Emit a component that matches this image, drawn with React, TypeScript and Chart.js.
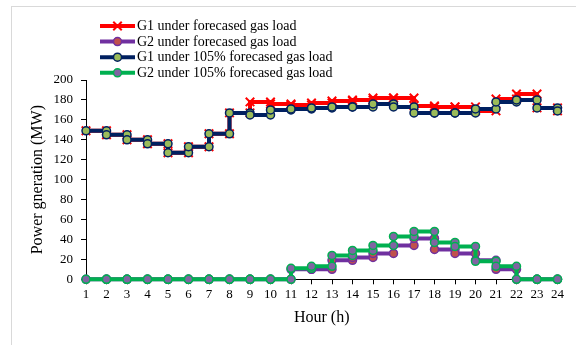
import React, { useEffect, useRef } from 'react';
import { Chart, registerables } from 'chart.js';

Chart.register(...registerables);

const hours = [1, 2, 3, 4, 5, 6, 7, 8, 9, 10, 11, 12, 13, 14, 15, 16, 17, 18, 19, 20, 21, 22, 23, 24];

const seriesNames = [
  'G1 under forecased gas load',
  'G2 under forecased gas load',
  'G1 under 105% forecased gas load',
  'G2 under 105% forecased gas load',
];

const g1Forecast = [149, 145, 140, 136, 127, 133, 146, 167, 178, 176, 175, 177, 179, 180, 182, 182, 174, 173, 173, 169, 181, 186, 172, 169];
const g2Forecast = [0, 0, 0, 0, 0, 0, 0, 0, 0, 0, 10, 10, 19, 22, 26, 34, 41, 30, 26, 19, 10, 0, 0, 0];
const g1Plus5 = [149, 145, 140, 136, 127, 133, 146, 167, 165, 170, 171, 172, 173, 173, 176, 173, 167, 167, 167, 171, 178, 180, 172, 169];
const g2Plus5 = [0, 0, 0, 0, 0, 0, 0, 0, 0, 0, 11, 13, 24, 29, 34, 43, 48, 37, 33, 18, 13, 0, 0, 0];

const yTitle = 'Power gneration (MW)';
const xTitle = 'Hour (h)';

const FONT = '"Liberation Serif", "Times New Roman", serif';

function stepPoints(values: number[]) {
  const pts: { x: number; y: number }[] = [];
  values.forEach((v, i) => {
    if (i > 0) pts.push({ x: hours[i], y: values[i - 1] });
    pts.push({ x: hours[i], y: v });
  });
  return pts;
}

function drawMarker(ctx: CanvasRenderingContext2D, ds: any, x: number, y: number) {
  if (ds.pointStyle === 'crossRot') {
    const r = ds.pointRadius * Math.SQRT1_2;
    ctx.strokeStyle = ds.pointBorderColor;
    ctx.lineWidth = ds.pointBorderWidth;
    ctx.beginPath();
    ctx.moveTo(x - r, y - r);
    ctx.lineTo(x + r, y + r);
    ctx.moveTo(x - r, y + r);
    ctx.lineTo(x + r, y - r);
    ctx.stroke();
  } else {
    ctx.beginPath();
    ctx.arc(x, y, ds.pointRadius, 0, Math.PI * 2);
    ctx.fillStyle = ds.pointBackgroundColor;
    ctx.fill();
    ctx.strokeStyle = ds.pointBorderColor;
    ctx.lineWidth = ds.pointBorderWidth;
    ctx.stroke();
  }
}

const legendPlugin = {
  id: 'stepLegend',
  afterDraw(chart: any) {
    const ctx = chart.ctx as CanvasRenderingContext2D;
    ctx.save();
    chart.data.datasets.forEach((ds: any, i: number) => {
      const y = 26 + i * 15.6;
      ctx.strokeStyle = ds.borderColor;
      ctx.lineWidth = 4;
      ctx.beginPath();
      ctx.moveTo(100, y);
      ctx.lineTo(135, y);
      ctx.stroke();
      drawMarker(ctx, ds, 117.5, y);
      ctx.fillStyle = '#000';
      ctx.font = '14px ' + FONT;
      ctx.textBaseline = 'middle';
      ctx.textAlign = 'left';
      ctx.fillText(ds.label, 137, y + 0.5);
    });
    ctx.restore();
  },
};

export default function App() {
  const canvasRef = useRef<HTMLCanvasElement | null>(null);

  useEffect(() => {
    if (!canvasRef.current) return;
    const common = { borderWidth: 4, tension: 0, clip: false as any, pointBorderWidth: 1.5, pointRadius: 4 };
    const chart = new Chart(canvasRef.current, {
      type: 'line',
      data: {
        datasets: [
          {
            ...common,
            label: seriesNames[0],
            data: stepPoints(g1Forecast),
            borderColor: '#FF0000',
            pointStyle: 'crossRot',
            pointRadius: 6,
            pointBorderWidth: 2,
            pointBorderColor: '#FF0000',
            pointBackgroundColor: '#FF0000',
            order: 4,
          },
          {
            ...common,
            label: seriesNames[1],
            data: stepPoints(g2Forecast),
            borderColor: '#7030A0',
            pointStyle: 'circle',
            pointBorderColor: '#7030A0',
            pointBackgroundColor: '#C0504D',
            order: 3,
          },
          {
            ...common,
            label: seriesNames[2],
            data: stepPoints(g1Plus5),
            borderColor: '#002060',
            pointStyle: 'circle',
            pointBorderColor: '#002060',
            pointBackgroundColor: '#9BBB59',
            order: 2,
          },
          {
            ...common,
            label: seriesNames[3],
            data: stepPoints(g2Plus5),
            borderColor: '#00B050',
            pointStyle: 'circle',
            pointBorderColor: '#00B050',
            pointBackgroundColor: '#8064A2',
            order: 1,
          },
        ] as any,
      },
      options: {
        animation: false,
        responsive: true,
        maintainAspectRatio: false,
        layout: { padding: { top: 80, left: 0, right: 18.5, bottom: 15.7 } },
        plugins: { legend: { display: false }, tooltip: { enabled: false } },
        scales: {
          x: {
            type: 'linear',
            min: 1,
            max: 24,
            afterFit: (s: any) => { s.height = 50; },
            ticks: { stepSize: 1, color: '#000', font: { family: FONT, size: 13 }, padding: 2, maxRotation: 0, autoSkip: false },
            grid: { drawOnChartArea: false, drawTicks: true, tickLength: 5, color: '#000' },
            border: { display: true, color: '#000', width: 1 },
            title: { display: true, text: xTitle, color: '#000', font: { family: FONT, size: 16 }, padding: { top: 0, bottom: 2 } },
          },
          y: {
            min: 0,
            max: 200,
            afterFit: (s: any) => { s.width = 86; },
            ticks: { stepSize: 20, color: '#000', font: { family: FONT, size: 13 }, padding: 8 },
            grid: { drawOnChartArea: false, drawTicks: true, tickLength: 5, color: '#000' },
            border: { display: true, color: '#000', width: 1 },
            title: { display: true, text: yTitle, color: '#000', font: { family: FONT, size: 16 }, padding: { top: 28, bottom: 0 } },
          },
        },
      } as any,
      plugins: [legendPlugin],
    });
    return () => chart.destroy();
  }, []);

  return (
    <div style={{ position: 'fixed', left: 0, top: 0, width: 576, height: 345, background: '#fff', overflow: 'hidden' }}>
      <div style={{ position: 'absolute', left: 11, top: 6, width: 600, height: 400, borderLeft: '1px solid #d9d9d9', borderTop: '1px solid #d9d9d9' }} />
      <div style={{ position: 'absolute', left: 0, top: 0, width: 576, height: 345 }}>
        <canvas ref={canvasRef} />
      </div>
    </div>
  );
}
